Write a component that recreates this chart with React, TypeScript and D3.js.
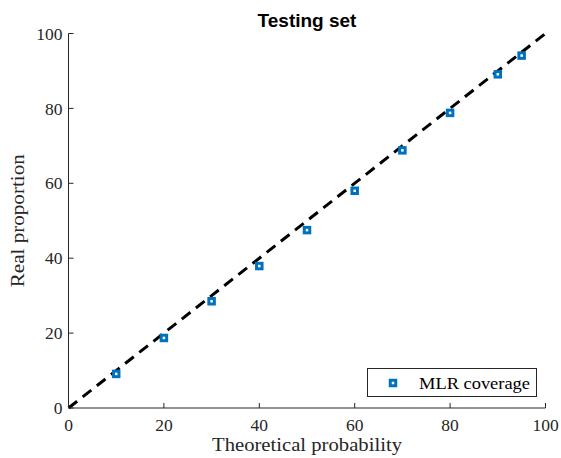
import React from "react";
import * as d3 from "d3";

// Nominal coverage levels (%) and observed coverage on the testing set (%)
const theoretical = [10, 20, 30, 40, 50, 60, 70, 80, 90, 95];
const observed = [9.1, 18.7, 28.5, 37.9, 47.5, 58.0, 68.8, 78.8, 89.1, 94.1];
const xTicks = [0, 20, 40, 60, 80, 100];
const yTicks = [0, 20, 40, 60, 80, 100];
const identityLine = [0, 100];

const W = 561;
const H = 458;
const margin = { left: 68.5, right: 15.5, top: 33.5, bottom: 50 };
const serif = "'Liberation Serif', 'DejaVu Serif', serif";
const sans = "'Liberation Sans', Arial, sans-serif";
const axisColor = "#262626";
const blue = "#0072BD";
const markerSize = 5.5;
const markerStroke = 3;

export default function App() {
  const x = d3.scaleLinear().domain([0, 100]).range([margin.left, W - margin.right]);
  const y = d3.scaleLinear().domain([0, 100]).range([H - margin.bottom, margin.top]);
  const line = d3
    .line<number>()
    .x((d) => x(d))
    .y((d) => y(d));

  const [x0, x1] = x.range();
  const [y0, y1] = y.range();
  const tickLen = 5;

  return (
    <svg
      width={W}
      height={H}
      style={{ position: "absolute", left: 0, top: 0, background: "#fff" }}
    >
      <text
        x={(x0 + x1) / 2}
        y={27}
        textAnchor="middle"
        fontFamily={sans}
        fontWeight="bold"
        fontSize={19}
        fill="#000"
      >
        Testing set
      </text>

      {/* identity reference */}
      <path
        d={line(identityLine) || ""}
        fill="none"
        stroke="#000"
        strokeWidth={3}
        strokeDasharray="11,7"
      />

      {/* axes */}
      <line x1={x0} x2={x1} y1={y0} y2={y0} stroke={axisColor} strokeWidth={1} />
      <line x1={x0} x2={x0} y1={y0} y2={y1} stroke={axisColor} strokeWidth={1} />
      {xTicks.map((t) => (
        <g key={"xt" + t}>
          <line x1={x(t)} x2={x(t)} y1={y0} y2={y0 - tickLen} stroke={axisColor} />
          <text
            x={x(t)}
            y={y0 + 23}
            textAnchor="middle"
            fontFamily={serif}
            fontSize={17.5}
            fill={axisColor}
          >
            {t}
          </text>
        </g>
      ))}
      {yTicks.map((t) => (
        <g key={"yt" + t}>
          <line x1={x0} x2={x0 + tickLen} y1={y(t)} y2={y(t)} stroke={axisColor} />
          <text
            x={x0 - 6}
            y={y(t)}
            dy="0.35em"
            textAnchor="end"
            fontFamily={serif}
            fontSize={17.5}
            fill={axisColor}
          >
            {t}
          </text>
        </g>
      ))}

      {/* observed coverage markers */}
      {theoretical.map((t, i) => (
        <rect
          key={"m" + t}
          x={x(t) - markerSize / 2}
          y={y(observed[i]) - markerSize / 2}
          width={markerSize}
          height={markerSize}
          fill="#fff"
          stroke={blue}
          strokeWidth={markerStroke}
        />
      ))}

      <text
        x={(x0 + x1) / 2}
        y={451}
        textAnchor="middle"
        fontFamily={serif}
        fontSize={19}
        textLength={190}
        lengthAdjust="spacingAndGlyphs"
        fill={axisColor}
      >
        Theoretical probability
      </text>
      <text
        transform={`translate(24, ${(y0 + y1) / 2}) rotate(-90)`}
        textAnchor="middle"
        fontFamily={serif}
        fontSize={19}
        textLength={133}
        lengthAdjust="spacingAndGlyphs"
        fill={axisColor}
      >
        Real proportion
      </text>

      {/* legend */}
      <rect x={367.5} y={368.5} width={169} height={28} fill="#fff" stroke={axisColor} strokeWidth={1} />
      <rect
        x={393 - markerSize / 2}
        y={383 - markerSize / 2}
        width={markerSize}
        height={markerSize}
        fill="#fff"
        stroke={blue}
        strokeWidth={markerStroke}
      />
      <text
        x={419}
        y={388.5}
        fontFamily={serif}
        fontSize={17}
        textLength={111}
        lengthAdjust="spacingAndGlyphs"
        fill="#000"
      >
        MLR coverage
      </text>
    </svg>
  );
}
